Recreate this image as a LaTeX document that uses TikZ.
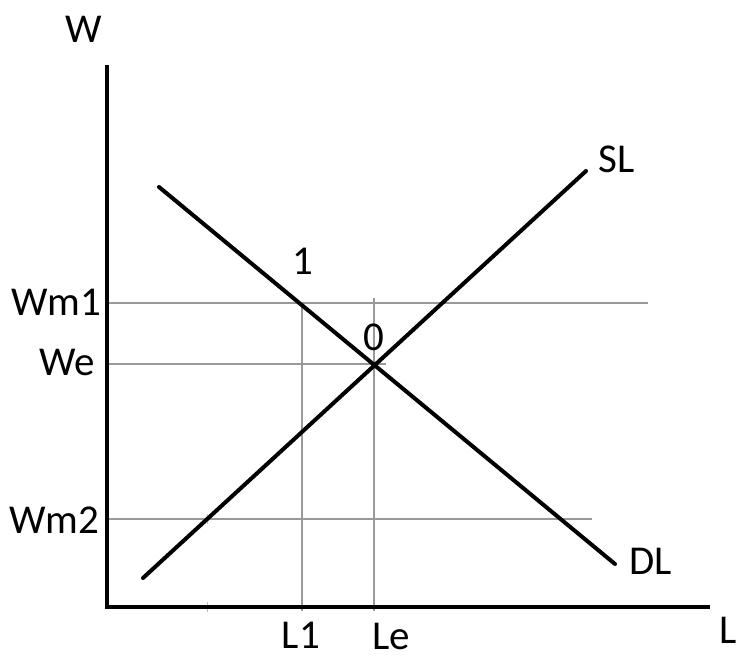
\documentclass[tikz,border=0pt]{standalone}
\usepackage{fontspec}
\setmainfont{Carlito}
\begin{document}
\begin{tikzpicture}[x=1pt,y=-1pt,
  axisline/.style={line width=4pt, line join=miter, line cap=butt},
  curveline/.style={line width=4pt, line cap=round},
  gridline/.style={line width=1.2pt, color=gray!80},
  ticklet/.style={line width=0.8pt, color=gray!50},
  lab/.style={inner sep=0pt, anchor=base, font=\fontsize{41}{44}\selectfont}]
\useasboundingbox (0,0) rectangle (738,659);
% coordinates
\coordinate (ytop) at (107,65);
\coordinate (O) at (107,607);
\coordinate (xend) at (710,607);
\coordinate (S1) at (143,578);
\coordinate (S2) at (586,171);
\coordinate (D1) at (159,187);
\coordinate (D2) at (615,564);
\coordinate (wm1a) at (107,303);
\coordinate (wm1b) at (648,303);
\coordinate (wea) at (107,364);
\coordinate (web) at (386,364);
\coordinate (wm2a) at (107,519);
\coordinate (wm2b) at (592,519);
\coordinate (l1a) at (302,303);
\coordinate (l1b) at (302,611);
\coordinate (lea) at (374,298);
\coordinate (leb) at (374,611);
% grid lines
\draw[gridline] (wm1a) -- (wm1b);
\draw[gridline] (wea) -- (web);
\draw[gridline] (wm2a) -- (wm2b);
\draw[gridline] (l1a) -- (l1b);
\draw[gridline] (lea) -- (leb);
\coordinate (t1a) at (207,602);
\coordinate (t1b) at (207,612);
\coordinate (t2a) at (207,514);
\coordinate (t2b) at (207,524);
\draw[ticklet] (t1a) -- (t1b);
\draw[ticklet] (t2a) -- (t2b);
% axes
\draw[axisline] (ytop) -- (O) -- (xend);
% curves
\draw[curveline] (S1) -- (S2);
\draw[curveline] (D1) -- (D2);
% labels
\node[lab] (W) at (84,42) {W};
\node[lab, anchor=base east] (L) at (737,643) {L};
\node[lab, anchor=base east] (Wm1) at (101,315) {Wm1};
\node[lab, anchor=base east] (We) at (95,375) {We};
\node[lab, anchor=base east] (Wm2) at (99,533) {Wm2};
\node[lab] (one) at (303,274) {1};
\node[lab] (zero) at (374,350) {0};
\node[lab, anchor=base west] (SL) at (598,172) {SL};
\node[lab, anchor=base west] (DL) at (629,574) {DL};
\node[lab] (L1) at (301,648) {L1};
\node[lab] (Le) at (391,649) {Le};
\end{tikzpicture}
\end{document}
